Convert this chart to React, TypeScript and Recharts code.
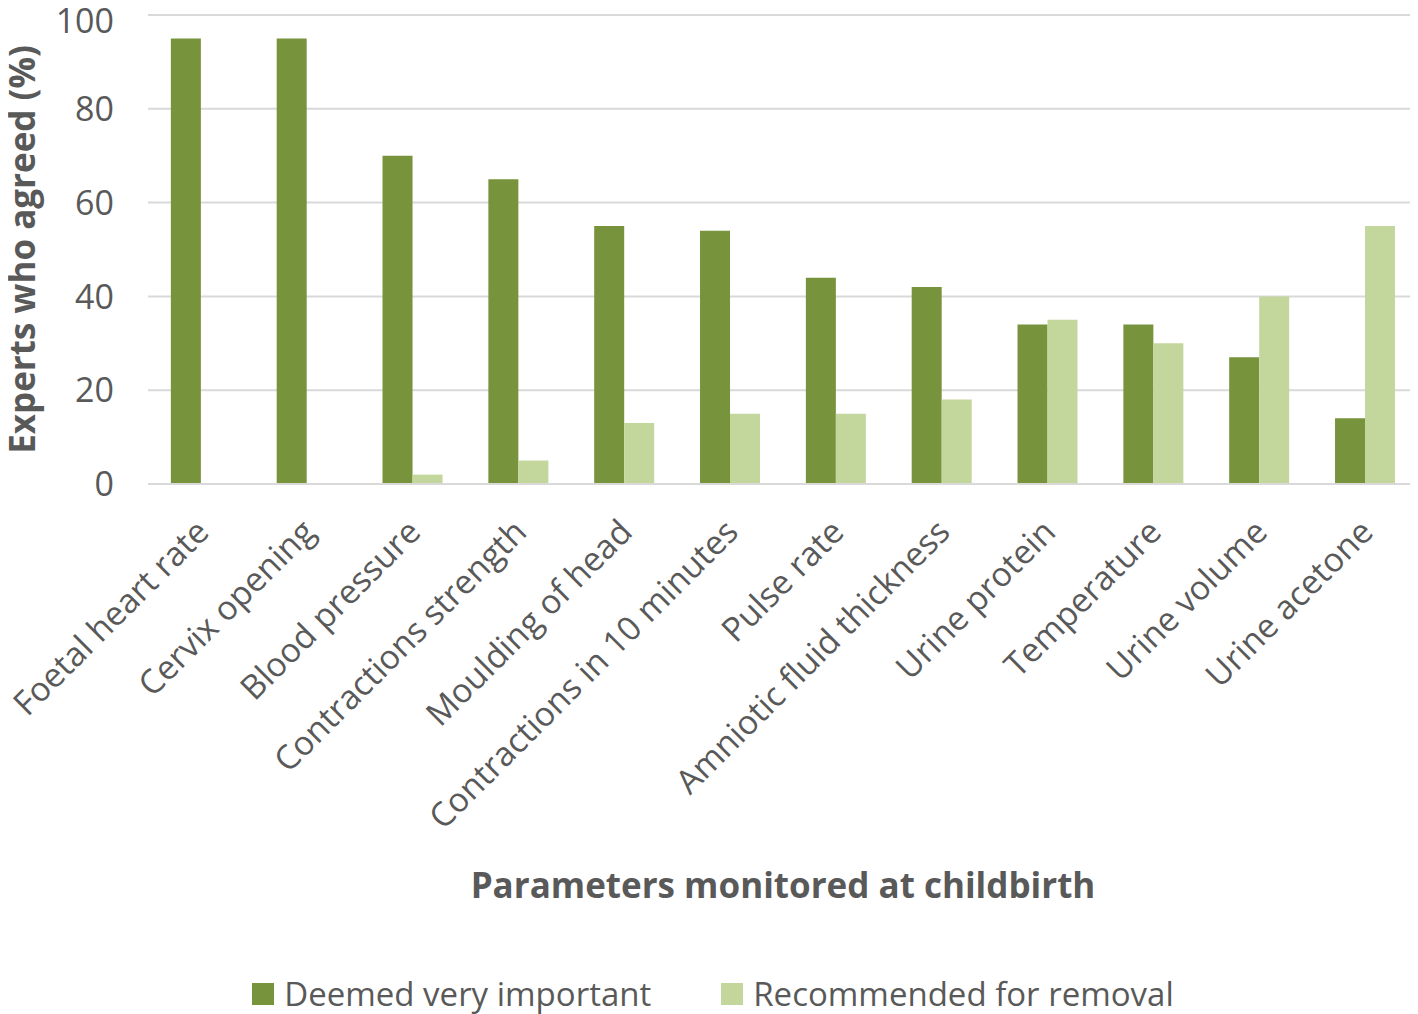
import React from 'react';
import { BarChart, Bar, XAxis, YAxis, CartesianGrid, Legend } from 'recharts';

const categories = [
  'Foetal heart rate',
  'Cervix opening',
  'Blood pressure',
  'Contractions strength',
  'Moulding of head',
  'Contractions in 10 minutes',
  'Pulse rate',
  'Amniotic fluid thickness',
  'Urine protein',
  'Temperature',
  'Urine volume',
  'Urine acetone',
];
const deemedImportant = [95, 95, 70, 65, 55, 54, 44, 42, 34, 34, 27, 14];
const recommendedRemoval = [0, 0, 2, 5, 13, 15, 15, 18, 35, 30, 40, 55];
const yTicks = [0, 20, 40, 60, 80, 100];

const data = categories.map((name, i) => ({
  name,
  important: deemedImportant[i],
  removal: recommendedRemoval[i],
}));

const DARK = '#77933C';
const LIGHT = '#C3D69B';
const TEXT = '#595959';
const FONT = '"Open Sans", sans-serif';

const XTick = (props: any) => {
  const { x, y, payload } = props;
  return (
    <g transform={`translate(${x + 10},${y + 42})`}>
      <text
        x={0}
        y={0}
        textAnchor="end"
        transform="rotate(-45)"
        fill={TEXT}
        fontSize={33.5}
        fontFamily={FONT}
      >
        {payload.value}
      </text>
    </g>
  );
};

const YTick = (props: any) => {
  const { x, y, payload, index } = props;
  const nudge = index === yTicks.length - 1 ? 4 : 0;
  return (
    <text x={x} y={y + nudge} dy="0.36em" textAnchor="end" fill={TEXT} fontSize={34} fontFamily={FONT}>
      {payload.value}
    </text>
  );
};

const YLabel = (props: any) => {
  const vb = props.viewBox || {};
  const cx = 13;
  const cy = vb.y + vb.height / 2;
  return (
    <text
      x={cx}
      y={cy}
      transform={`rotate(-90, ${cx}, ${cy})`}
      textAnchor="middle"
      dominantBaseline="central"
      fill={TEXT}
      fontSize={35}
      fontWeight="bold"
      fontFamily={FONT}
    >
      Experts who agreed (%)
    </text>
  );
};

const LegendContent = () => (
  <div
    style={{
      display: 'flex',
      justifyContent: 'center',
      alignItems: 'center',
      fontFamily: FONT,
      fontSize: 33,
      lineHeight: '40px',
      color: TEXT,
      height: 40,
    }}
  >
    <span style={{ display: 'inline-flex', alignItems: 'center', marginRight: 70 }}>
      <span style={{ width: 22, height: 22, background: DARK, display: 'inline-block', marginRight: 10 }} />
      Deemed very important
    </span>
    <span style={{ display: 'inline-flex', alignItems: 'center' }}>
      <span style={{ width: 22, height: 22, background: LIGHT, display: 'inline-block', marginRight: 10 }} />
      Recommended for removal
    </span>
  </div>
);

export default function App() {
  return (
    <>
      <style>{`.recharts-surface { overflow: visible !important; } .recharts-wrapper { overflow: visible !important; }`}</style>
      <BarChart
        width={1410}
        height={1006}
        data={data}
        margin={{ top: 7, right: 0, left: 0, bottom: 0 }}
        barCategoryGap="21.6%"
        barGap={0}
      >
        <CartesianGrid vertical={false} stroke="#d9d9d9" strokeWidth={2} />
        <XAxis
          dataKey="name"
          interval={0}
          height={490}
          axisLine={{ stroke: '#d9d9d9', strokeWidth: 2 }}
          tickLine={false}
          tick={<XTick />}
          label={{
            value: 'Parameters monitored at childbirth',
            position: 'insideBottom',
            offset: 76,
            fill: TEXT,
            fontSize: 35,
            fontWeight: 'bold',
            fontFamily: FONT,
          }}
        />
        <YAxis
          width={140}
          domain={[0, 100]}
          ticks={yTicks}
          axisLine={false}
          tickLine={false}
          tickSize={0}
          tickMargin={34}
          tick={<YTick />}
          label={<YLabel />}
        />
        <Legend verticalAlign="bottom" height={40} content={<LegendContent />} />
        <Bar dataKey="important" name="Deemed very important" fill={DARK} isAnimationActive={false} />
        <Bar dataKey="removal" name="Recommended for removal" fill={LIGHT} isAnimationActive={false} />
      </BarChart>
    </>
  );
}
